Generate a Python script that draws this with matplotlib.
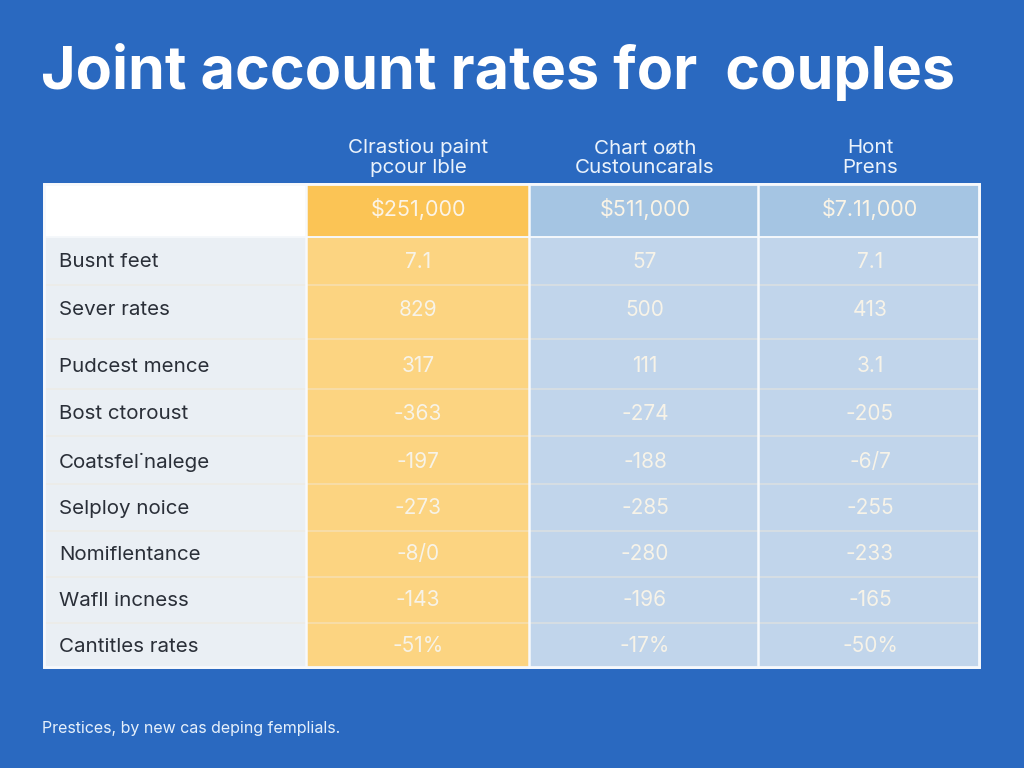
import matplotlib
matplotlib.use('Agg')
import matplotlib.pyplot as plt
from matplotlib.patches import Rectangle

title = 'Joint account rates for  couples'
footnote = 'Prestices, by new cas deping femplials.'

col_headers = ['Clrastiou paint\npcour lble', 'Chart oøth\nCustouncarals', 'Hont\nPrens']
top_values = ['$251,000', '$511,000', '$7.11,000']

row_labels = ['Busnt feet', 'Sever rates', 'Pudcest mence', 'Bost ctoroust',
              "Coatsfel˙nalege", 'Selploy noice', 'Nomiflentance', 'Wafll incness',
              'Cantitles rates']
col1 = ['7.1', '829', '317', '-363', '-197', '-273', '-8/0', '-143', '-51%']
col2 = ['57', '500', '111', '-274', '-188', '-285', '-280', '-196', '-17%']
col3 = ['7.1', '413', '3.1', '-205', '-6/7', '-255', '-233', '-165', '-50%']

# pixel layout of the table
row_edges = [184, 237, 285, 339, 389, 436, 484, 531, 577, 623, 667]
row_text_y = [262, 310, 367, 414, 462, 509, 555, 601, 647]
col_edges = [44, 306, 529, 758, 979]
col_centers = [418, 645, 870]

plt.rcParams['font.family'] = ['Inter', 'DejaVu Sans']

fig = plt.figure(figsize=(10.24, 7.68), dpi=100, facecolor='#2A69C0')
ax = fig.add_axes([0, 0, 1, 1])
ax.set_xlim(0, 1024)
ax.set_ylim(768, 0)
ax.axis('off')

ax.text(41, 72, title, color='white', fontsize=42.6, fontweight='bold', va='center', ha='left')

for x, head in zip(col_centers, col_headers):
    ax.text(x, 158, head, color='#EAF2FB', fontsize=14.8, ha='center', va='center', linespacing=1.08)

# white table backing
ax.add_patch(Rectangle((col_edges[0], row_edges[0]), col_edges[-1] - col_edges[0],
                       row_edges[-1] - row_edges[0], fc='white', ec='white', lw=2, zorder=1))

body_fill = ['#EAEFF4', '#FCD481', '#C1D5EB', '#C1D5EB']
head_fill = ['#FFFFFF', '#FBC455', '#A5C5E3', '#A5C5E3']

for j in range(4):
    x0, x1 = col_edges[j], col_edges[j + 1]
    ax.add_patch(Rectangle((x0, row_edges[0]), x1 - x0, row_edges[1] - row_edges[0],
                           fc=head_fill[j], ec='none', zorder=2))
    ax.add_patch(Rectangle((x0, row_edges[1]), x1 - x0, row_edges[-1] - row_edges[1],
                           fc=body_fill[j], ec='none', zorder=2))

# row lines are faint, column lines a bit stronger
for y in row_edges[2:-1]:
    ax.plot([col_edges[0], col_edges[-1]], [y, y], color='#F1E9DA', alpha=0.55, lw=1.1, zorder=3)
ax.plot([col_edges[0], col_edges[-1]], [row_edges[1], row_edges[1]], color='#F5F8FB', lw=1.4, zorder=3)
for x in col_edges[1:-1]:
    ax.plot([x, x], [row_edges[0], row_edges[-1]], color='#F7F9FC', lw=1.8, zorder=3)
ax.add_patch(Rectangle((col_edges[0], row_edges[0]), col_edges[-1] - col_edges[0],
                       row_edges[-1] - row_edges[0], fc='none', ec='#F7F9FC', lw=2, zorder=4))

for x, val in zip(col_centers, top_values):
    ax.text(x, 209, val, color='#FBF4E6', fontsize=15.5, ha='center', va='center', zorder=5)

for i, label in enumerate(row_labels):
    y = row_text_y[i]
    ax.text(59, y, label, color='#2A2F38', fontsize=14.8, ha='left', va='center', zorder=5)
    for x, vals in zip(col_centers, [col1, col2, col3]):
        ax.text(x, y - 0.5, vals[i], color='#F7F3E8', fontsize=15, ha='center', va='center', zorder=5)

ax.text(42, 728, footnote, color='#E6F0FB', fontsize=11.5, ha='left', va='center')

fig.savefig('out.png', dpi=100, facecolor=fig.get_facecolor())
